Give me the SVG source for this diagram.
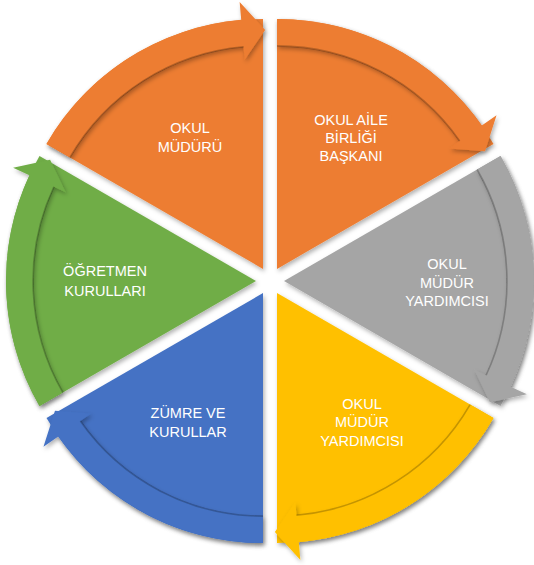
<svg xmlns="http://www.w3.org/2000/svg" xmlns:xlink="http://www.w3.org/1999/xlink" width="534" height="565" viewBox="0 0 534 565">
<style>
.t{font-family:"Liberation Sans",Arial,sans-serif;font-size:14.5px;fill:#fff;text-anchor:middle}
.or{fill:#ED7D31}.gy{fill:#A5A5A5}.ye{fill:#FFC000}.bl{fill:#4472C4}.gr{fill:#70AD47}
.ln{fill:none;stroke:#000;stroke-opacity:0.22;stroke-width:1.6}
</style>
<defs>
<filter id="sh" x="-10%" y="-10%" width="120%" height="120%">
<feDropShadow dx="1.5" dy="2.5" stdDeviation="2" flood-color="#000" flood-opacity="0.3"/>
</filter>
<path id="w" d="M0,0 L-216.51,-125 A250,250 0 0,1 0,-250 Z"/>
<path id="a" d="M-216.51,-125 A250,250 0 0,1 -21.79,-249.05 L-23.36,-266.98 L2.09,-238.99 L-18.30,-209.20 L-19.44,-222.15 A223,223 0 0,0 -193.12,-111.5 Z"/>
<path id="l" d="M-193.12,-111.5 A223,223 0 0,1 -19.44,-222.15"/>
</defs>
<rect width="534" height="565" fill="#fff"/>
<g id="node-okul-muduru" filter="url(#sh)"><use xlink:href="#w" class="or" transform="translate(263,268.88)"/></g>
<g id="node-okul-aile" filter="url(#sh)"><use xlink:href="#w" class="or" transform="translate(277,268.88) rotate(60)"/></g>
<g id="node-mudur-yrd-1" filter="url(#sh)"><use xlink:href="#w" class="gy" transform="translate(284,281) rotate(120)"/></g>
<g id="node-mudur-yrd-2" filter="url(#sh)"><use xlink:href="#w" class="ye" transform="translate(277,293.12) rotate(180)"/></g>
<g id="node-zumre" filter="url(#sh)"><use xlink:href="#w" class="bl" transform="translate(263,293.12) rotate(240)"/></g>
<g id="node-ogretmen" filter="url(#sh)"><use xlink:href="#w" class="gr" transform="translate(256,281) rotate(300)"/></g>
<g id="connectors">
<g filter="url(#sh)"><g transform="translate(263,268.88)"><use xlink:href="#a" class="or"/><use xlink:href="#l" class="ln"/></g></g>
<g filter="url(#sh)"><g transform="translate(277,268.88) rotate(60)"><use xlink:href="#a" class="or"/><use xlink:href="#l" class="ln"/></g></g>
<g filter="url(#sh)"><g transform="translate(284,281) rotate(120)"><use xlink:href="#a" class="gy"/><use xlink:href="#l" class="ln"/></g></g>
<g filter="url(#sh)"><g transform="translate(277,293.12) rotate(180)"><use xlink:href="#a" class="ye"/><use xlink:href="#l" class="ln"/></g></g>
<g filter="url(#sh)"><g transform="translate(263,293.12) rotate(240)"><use xlink:href="#a" class="bl"/><use xlink:href="#l" class="ln"/></g></g>
<g filter="url(#sh)"><g transform="translate(256,281) rotate(300)"><use xlink:href="#a" class="gr"/><use xlink:href="#l" class="ln"/></g></g>
</g>
<g id="labels">
<text class="t" x="190" y="133">OKUL</text>
<text class="t" x="190" y="152">MÜDÜRÜ</text>
<text class="t" x="351" y="125">OKUL AİLE</text>
<text class="t" x="351" y="143">BİRLİĞİ</text>
<text class="t" x="351" y="161">BAŞKANI</text>
<text class="t" x="447" y="269">OKUL</text>
<text class="t" x="447" y="288">MÜDÜR</text>
<text class="t" x="447" y="306">YARDIMCISI</text>
<text class="t" x="362" y="409">OKUL</text>
<text class="t" x="362" y="427">MÜDÜR</text>
<text class="t" x="362" y="446">YARDIMCISI</text>
<text class="t" x="188" y="418">ZÜMRE VE</text>
<text class="t" x="188" y="437">KURULLAR</text>
<text class="t" x="105" y="276">ÖĞRETMEN</text>
<text class="t" x="105" y="296">KURULLARI</text>
</g>
</svg>
